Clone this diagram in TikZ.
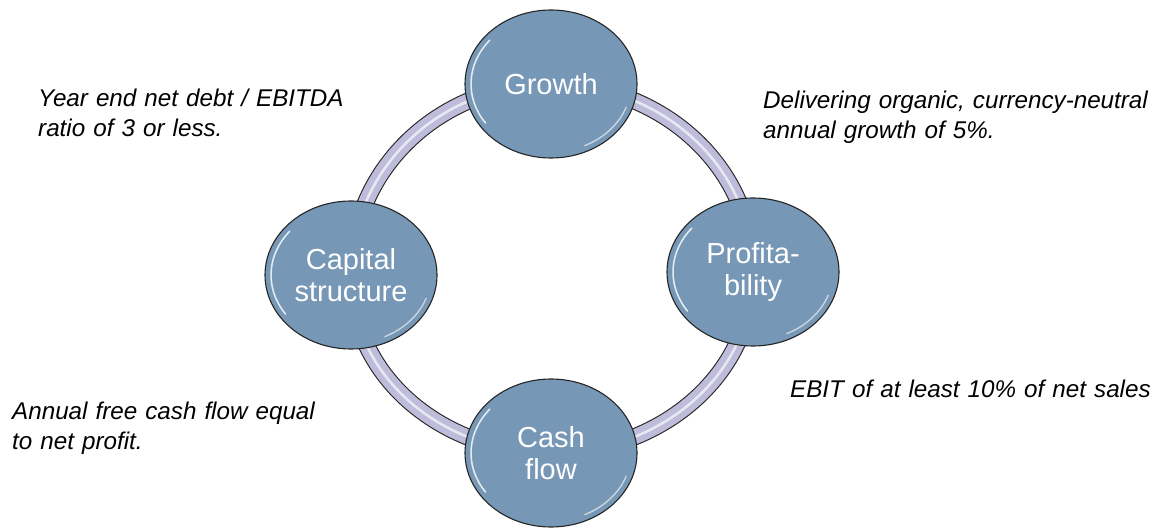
\documentclass[tikz,border=0pt]{standalone}
\usepackage{fontspec}
\setmainfont{Liberation Sans}
\usetikzlibrary{shapes.geometric,backgrounds}
\definecolor{ballblue}{RGB}{118,151,181}
\definecolor{ringlilac}{RGB}{190,188,218}

\begin{document}
\begin{tikzpicture}[x=1pt, y=-1pt,
		ball/.style={ellipse, draw=black!85, line width=1.1pt, fill=ballblue,
			minimum width=172pt, minimum height=148pt, inner sep=0pt,
			text=white, align=center, font=\fontsize{29}{32}\selectfont,
			path picture={
				\draw[white, opacity=.8, line width=1.6pt, line cap=round]
					(path picture bounding box.center) ++(140:80pt and 68pt)
					arc[start angle=140, end angle=215, x radius=80pt, y radius=68pt];
				\draw[white, opacity=.6, line width=1.4pt, line cap=round]
					(path picture bounding box.center) ++(-65:80pt and 68pt)
					arc[start angle=-65, end angle=-20, x radius=80pt, y radius=68pt];
			}},
		note/.style={anchor=base west, inner sep=0pt, text width=420pt, align=left,
			font=\fontsize{24.2}{30}\selectfont\itshape},
		ring/.style={draw=black!85, line width=1.1pt, double=ringlilac, double distance=15pt}]
	\useasboundingbox (0,0) rectangle (1164,529);

	% Кружки
	\node[ball] (growth) at (551,84) {Growth};
	\node[ball] (capital) at (351,275) {Capital\\structure};
	\node[ball] (profit) at (753,272) {Profita-\\bility};
	\node[ball] (cash) at (551,453) {Cash\\flow};

	% Подписи
	\node[note] (debtnote) at (38,107) {Year end net debt / EBITDA\\ratio of 3 or less.};
	\node[note] (growthnote) at (763,109) {Delivering organic, currency-neutral\\annual growth of 5\%.};
	\node[note] (cashnote) at (12,419) {Annual free cash flow equal\\to net profit.};
	\node[note] (ebitnote) at (790,397) {EBIT of at least 10\% of net sales};

	% Кольцо под кружками
	\begin{pgfonlayer}{background}
		\fill[white] (0,0) rectangle (1164,529);
		\draw[ring] (growth.center) to[out=0,in=90] (profit.center)
			to[out=-90,in=0] (cash.center) to[out=180,in=-90] (capital.center)
			to[out=90,in=180] (growth.center);
		\draw[ringlilac!35!white, line width=2.5pt] (growth.center) to[out=0,in=90] (profit.center)
			to[out=-90,in=0] (cash.center) to[out=180,in=-90] (capital.center)
			to[out=90,in=180] (growth.center);
	\end{pgfonlayer}
\end{tikzpicture}
\end{document}
